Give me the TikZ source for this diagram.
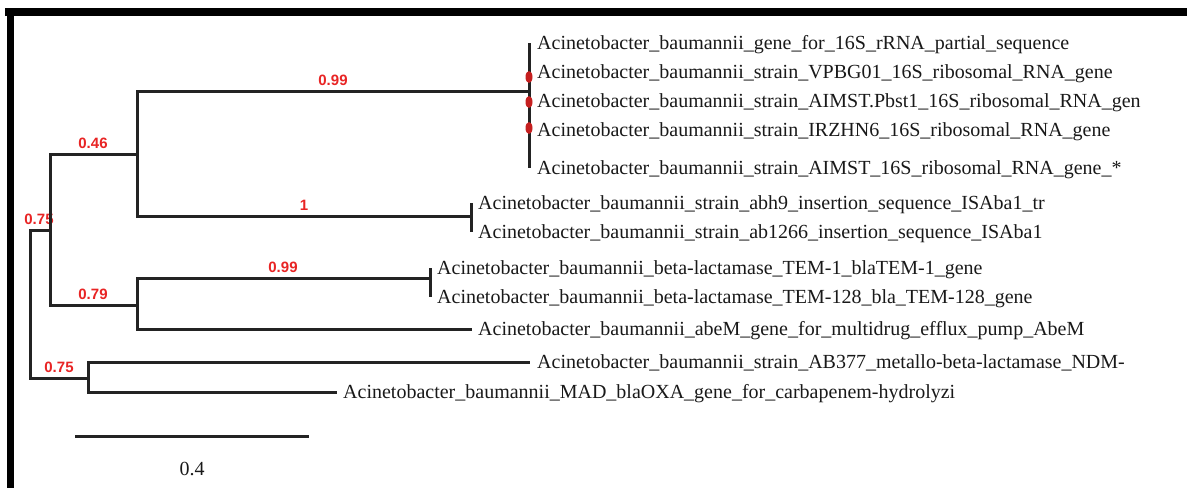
\documentclass[tikz,border=0pt]{standalone}
\usepackage{fontspec}
\setmainfont{Liberation Serif}
\newfontfamily\suppfont{Liberation Sans}
\usetikzlibrary{shapes.geometric,calc}
\definecolor{linegray}{RGB}{35,35,35}
\definecolor{txtgray}{RGB}{25,25,25}
\definecolor{suppred}{RGB}{232,36,36}
\begin{document}
\begin{tikzpicture}[x=1pt,y=-1pt,
  branch/.style={line width=3pt, draw=linegray},
  tiplabel/.style={anchor=base west, inner sep=0pt, text=txtgray, font=\fontsize{20}{24}\selectfont},
  supp/.style={inner sep=0pt, text=suppred, font=\suppfont\bfseries\fontsize{15}{18}\selectfont},
  dotm/.style={ellipse, fill=suppred!85!black, minimum width=7pt, minimum height=12pt, inner sep=0pt}]
\useasboundingbox (0,0) rectangle (1187,488);
% frame bars
\fill[black] (5,8) rectangle (1187,16);
\fill[black] (7,8) rectangle (14,488);
% internal nodes
\coordinate (root) at (30,304);
\coordinate (nA) at (50,230);
\coordinate (nB) at (137,154);
\coordinate (nC) at (529,91);
\coordinate (nF) at (471,216);
\coordinate (nD) at (137,305);
\coordinate (nG) at (430,278);
\coordinate (nE) at (88,378);
% tips
\coordinate (t1) at (529,43);
\coordinate (t2) at (529,72);
\coordinate (t3) at (529,101);
\coordinate (t4) at (529,130);
\coordinate (t5) at (529,168);
\coordinate (t6) at (471,203);
\coordinate (t7) at (471,232);
\coordinate (t8) at (430,268);
\coordinate (t9) at (430,297);
\coordinate (t10) at (472,329);
\coordinate (t11) at (530,362);
\coordinate (t12) at (337,392);
% support values
\node[supp] (s1) at (333,80) {0.99};
\node[supp] (s2) at (304,205) {1};
\node[supp] (s3) at (283,267) {0.99};
\node[supp] (s4) at (93,143) {0.46};
\node[supp] (s5) at (93,294) {0.79};
\node[supp] (s6) at (39,219) {0.75};
\node[supp] (s7) at (59,367) {0.75};
% branches
\draw[branch] (root) |- (nA);
\draw[branch] (root) |- (nE);
\draw[branch] (nA) |- (nB);
\draw[branch] (nA) |- (nD);
\draw[branch] (nB) |- (nC);
\draw[branch] (nB) |- (nF);
\draw[branch] (t1) -- (t5);
\draw[branch] (t6) -- (t7);
\draw[branch] (nD) |- (nG);
\draw[branch] (nD) |- (t10);
\draw[branch] (t8) -- (t9);
\draw[branch] (nE) |- (t11);
\draw[branch] (nE) |- (t12);
% red markers
\node[dotm] (d1) at (529,77) {};
\node[dotm] (d2) at (529,102) {};
\node[dotm] (d3) at (529,128) {};
% tip labels
\node[tiplabel] (L1) at ($(t1)+(8,6.5)$) {Acinetobacter\_baumannii\_gene\_for\_16S\_rRNA\_partial\_sequence};
\node[tiplabel] (L2) at ($(t2)+(8,6.5)$) {Acinetobacter\_baumannii\_strain\_VPBG01\_16S\_ribosomal\_RNA\_gene};
\node[tiplabel] (L3) at ($(t3)+(8,6.5)$) {Acinetobacter\_baumannii\_strain\_AIMST.Pbst1\_16S\_ribosomal\_RNA\_gen};
\node[tiplabel] (L4) at ($(t4)+(8,6.5)$) {Acinetobacter\_baumannii\_strain\_IRZHN6\_16S\_ribosomal\_RNA\_gene};
\node[tiplabel] (L5) at ($(t5)+(8,6.5)$) {Acinetobacter\_baumannii\_strain\_AIMST\_16S\_ribosomal\_RNA\_gene\_*};
\node[tiplabel] (L6) at ($(t6)+(7,6.5)$) {Acinetobacter\_baumannii\_strain\_abh9\_insertion\_sequence\_ISAba1\_tr};
\node[tiplabel] (L7) at ($(t7)+(7,6.5)$) {Acinetobacter\_baumannii\_strain\_ab1266\_insertion\_sequence\_ISAba1};
\node[tiplabel] (L8) at ($(t8)+(7,6.5)$) {Acinetobacter\_baumannii\_beta-lactamase\_TEM-1\_blaTEM-1\_gene};
\node[tiplabel] (L9) at ($(t9)+(7,6.5)$) {Acinetobacter\_baumannii\_beta-lactamase\_TEM-128\_bla\_TEM-128\_gene};
\node[tiplabel] (L10) at ($(t10)+(6,6.5)$) {Acinetobacter\_baumannii\_abeM\_gene\_for\_multidrug\_efflux\_pump\_AbeM};
\node[tiplabel] (L11) at ($(t11)+(7,6.5)$) {Acinetobacter\_baumannii\_strain\_AB377\_metallo-beta-lactamase\_NDM-};
\node[tiplabel] (L12) at ($(t12)+(6,6.5)$) {Acinetobacter\_baumannii\_MAD\_blaOXA\_gene\_for\_carbapenem-hydrolyzi};
% scale bar
\coordinate (sb1) at (75,436);
\coordinate (sb2) at (309,436);
\draw[branch] (sb1) -- (sb2);
\node[inner sep=0pt, text=txtgray, font=\fontsize{20}{24}\selectfont] (sbl) at (192,469) {0.4};
\end{tikzpicture}
\end{document}
